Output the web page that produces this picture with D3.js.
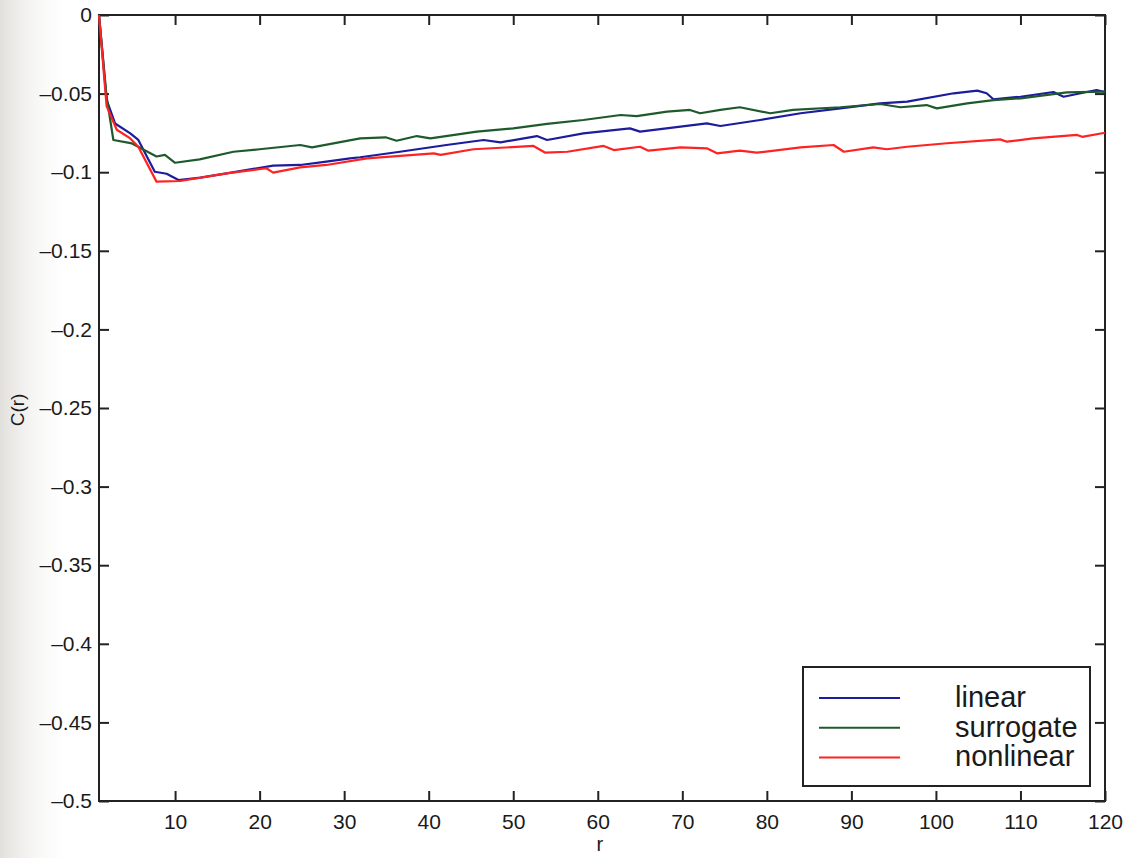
<!DOCTYPE html>
<html>
<head>
<meta charset="utf-8">
<script src="https://cdn.jsdelivr.net/npm/d3@7"></script>
<style>
  body { margin: 0; background: #fff; }
  svg text { font-family: "Liberation Sans", Arial, sans-serif; fill: #1a1a1a; }
</style>
</head>
<body>
<div id="wrapper"></div>
<script>
// r values and C(r) for each series
const linearR = [1, 1.9, 2.9, 4.7, 5.65, 7.6, 9, 10.4, 13, 16.1, 21.6, 24.8, 27.9, 30.7, 31.9, 36.6, 42.1, 46.5, 48.5, 52.8, 54, 58.3, 63.8, 65, 72.9, 74.5, 79.2, 84, 88.7, 93.4, 96.6, 102.1, 104.9, 106, 106.8, 110, 113.9, 115.1, 119, 120];
const linearC = [0, -0.054, -0.069, -0.0753, -0.0795, -0.0997, -0.101, -0.105, -0.1035, -0.1007, -0.0958, -0.0954, -0.0933, -0.0912, -0.0905, -0.087, -0.0827, -0.0795, -0.081, -0.077, -0.0795, -0.0753, -0.0721, -0.0742, -0.0689, -0.0706, -0.0668, -0.0625, -0.0594, -0.0562, -0.0551, -0.0498, -0.0481, -0.0498, -0.0536, -0.052, -0.049, -0.052, -0.0477, -0.049];

const surrogateR = [1, 1.9, 2.7, 4.9, 7.8, 8.8, 10, 12.9, 16.9, 20, 24.8, 26.2, 31.9, 34.9, 36.2, 38.6, 40.2, 45.7, 50, 54, 58.3, 62.7, 64.6, 68.2, 70.9, 72.1, 74.5, 76.8, 80.4, 83.1, 88.7, 93.4, 95.8, 98.9, 100.1, 103.7, 106.8, 110, 115.5, 120];
const surrogateC = [0, -0.052, -0.0795, -0.0817, -0.09, -0.089, -0.094, -0.0918, -0.087, -0.0854, -0.0827, -0.0842, -0.0785, -0.0778, -0.08, -0.077, -0.0785, -0.0742, -0.0721, -0.0693, -0.0668, -0.0636, -0.0643, -0.0615, -0.0604, -0.0625, -0.0604, -0.0587, -0.0625, -0.0604, -0.0587, -0.0566, -0.0587, -0.0573, -0.0594, -0.0562, -0.0541, -0.053, -0.0492, -0.0488];

const nonlinearR = [1, 1.9, 3.1, 4.7, 5.65, 7.8, 10.6, 16.1, 20.8, 21.6, 24.8, 27.9, 32.7, 40.6, 41.4, 45.3, 52.4, 53.8, 56.4, 60.7, 61.9, 65, 66, 69.8, 72.9, 74.1, 76.8, 78.8, 84, 87.9, 89.1, 92.6, 94.2, 96.6, 101.3, 107.6, 108.4, 111.5, 116.7, 117.3, 120];
const nonlinearC = [0, -0.058, -0.073, -0.0785, -0.0838, -0.106, -0.1056, -0.1007, -0.0975, -0.1003, -0.0969, -0.0954, -0.0912, -0.088, -0.089, -0.0854, -0.0833, -0.0876, -0.087, -0.0833, -0.0859, -0.0838, -0.0863, -0.0842, -0.0848, -0.088, -0.0863, -0.0876, -0.0842, -0.0827, -0.087, -0.0842, -0.0854, -0.0838, -0.0816, -0.0791, -0.0806, -0.0785, -0.0763, -0.0775, -0.0749];

const xTicks = [10, 20, 30, 40, 50, 60, 70, 80, 90, 100, 110, 120];
const yTicks = [0, -0.05, -0.1, -0.15, -0.2, -0.25, -0.3, -0.35, -0.4, -0.45, -0.5];
const seriesNames = ["linear", "surrogate", "nonlinear"];

const colors = { linear: "#1c1c9c", surrogate: "#1f5a2c", nonlinear: "#ff2222" };

const width = 1132;
const height = 858;
const margin = { top: 15, right: 27, bottom: 57, left: 99 };
const innerW = width - margin.left - margin.right;
const innerH = height - margin.top - margin.bottom;

const svg = d3.select("#wrapper")
    .append("svg")
    .attr("width", width)
    .attr("height", height);

// faint grey strip on the left edge of the scanned page
const defs = svg.append("defs");
const grad = defs.append("linearGradient").attr("id", "edge");
grad.append("stop").attr("offset", "0%").attr("stop-color", "#e2e0dc");
grad.append("stop").attr("offset", "100%").attr("stop-color", "#ffffff").attr("stop-opacity", 0);
svg.append("rect")
    .attr("x", 0).attr("y", 0)
    .attr("width", 75).attr("height", height)
    .attr("fill", "url(#edge)");

const bounds = svg.append("g")
    .attr("transform", `translate(${margin.left},${margin.top})`);

const x = d3.scaleLinear().domain([1, 120]).range([0, innerW]);
const y = d3.scaleLinear().domain([-0.5, 0]).range([innerH, 0]);

const fmtY = d => d === 0 ? "0" : "\u2013" + String(Math.abs(d));

// axes with inward ticks on all four sides
const xAxis = bounds.append("g")
    .attr("transform", `translate(0,${innerH})`)
    .call(d3.axisBottom(x).tickValues(xTicks).tickSizeInner(-10).tickSizeOuter(0).tickPadding(13));
const xTop = bounds.append("g")
    .call(d3.axisTop(x).tickValues(xTicks).tickSizeInner(-10).tickSizeOuter(0).tickFormat(""));
const yAxis = bounds.append("g")
    .call(d3.axisLeft(y).tickValues(yTicks).tickSizeInner(-10).tickSizeOuter(0).tickPadding(7).tickFormat(fmtY));
const yRight = bounds.append("g")
    .attr("transform", `translate(${innerW},0)`)
    .call(d3.axisRight(y).tickValues(yTicks).tickSizeInner(-10).tickSizeOuter(0).tickFormat(""));

bounds.selectAll(".domain").remove();
bounds.selectAll(".tick line").attr("stroke", "#222").attr("stroke-width", 2);
bounds.selectAll(".tick text")
    .attr("font-size", "21px")
    .attr("font-family", "Liberation Sans, Arial, sans-serif")
    .attr("fill", "#1a1a1a");

bounds.append("rect")
    .attr("width", innerW)
    .attr("height", innerH)
    .attr("fill", "none")
    .attr("stroke", "#222")
    .attr("stroke-width", 2);

// curves
const series = [
    { name: "linear", r: linearR, c: linearC },
    { name: "surrogate", r: surrogateR, c: surrogateC },
    { name: "nonlinear", r: nonlinearR, c: nonlinearC },
];

const line = d3.line()
    .x(d => x(d[0]))
    .y(d => y(d[1]));

series.forEach(s => {
    bounds.append("path")
        .datum(s.r.map((r, i) => [r, s.c[i]]))
        .attr("d", line)
        .attr("fill", "none")
        .attr("stroke", colors[s.name])
        .attr("stroke-width", 2.2)
        .attr("stroke-linejoin", "round");
});

// axis labels
svg.append("text")
    .attr("x", margin.left + x(60) + 2)
    .attr("y", 851)
    .attr("text-anchor", "middle")
    .attr("font-size", "20px")
    .text("r");

svg.append("text")
    .attr("transform", `translate(24,${margin.top + y(-0.25) + 2}) rotate(-90)`)
    .attr("text-anchor", "middle")
    .attr("font-size", "19px")
    .text("C(r)");

// legend
const legend = svg.append("g").attr("transform", "translate(803,667)");
legend.append("rect")
    .attr("width", 287)
    .attr("height", 119)
    .attr("fill", "#fff")
    .attr("stroke", "#222")
    .attr("stroke-width", 2);

seriesNames.forEach((name, i) => {
    const ly = 31 + i * 29.7;
    legend.append("line")
        .attr("x1", 16).attr("x2", 97)
        .attr("y1", ly).attr("y2", ly)
        .attr("stroke", colors[name])
        .attr("stroke-width", 2);
    legend.append("text")
        .attr("x", 152)
        .attr("y", ly + 9)
        .attr("font-size", "29px")
        .text(name);
});
</script>
</body>
</html>
